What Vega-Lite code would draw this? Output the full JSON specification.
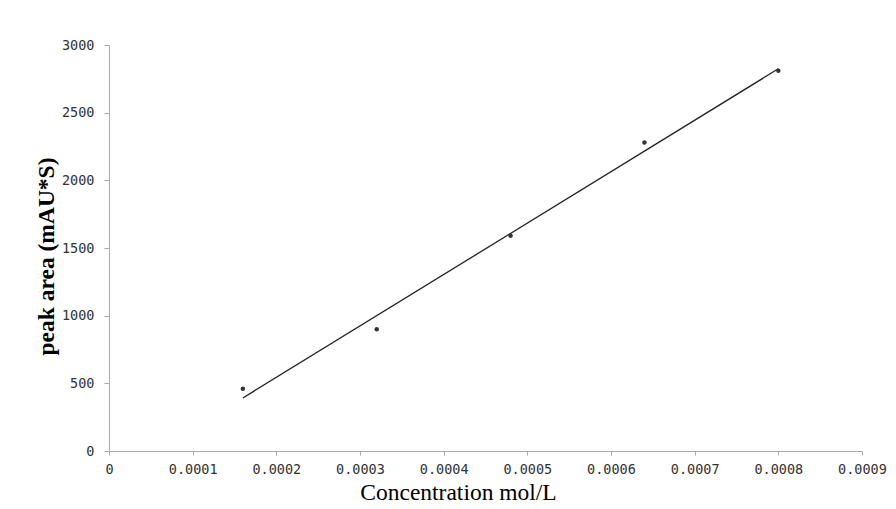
{
  "$schema": "https://vega.github.io/schema/vega-lite/v6.json",
  "width": 753,
  "height": 406,
  "autosize": {"type": "none"},
  "padding": {"left": 109, "top": 45, "right": 34, "bottom": 58},
  "background": "white",
  "config": {"view": {"stroke": null}},
  "datasets": {
    "pts": [
      {"conc": 0.00016, "area": 460},
      {"conc": 0.00032, "area": 900},
      {"conc": 0.00048, "area": 1590},
      {"conc": 0.00064, "area": 2280},
      {"conc": 0.0008, "area": 2810}
    ],
    "fit": [
      {"conc": 0.00016, "area": 392},
      {"conc": 0.0008, "area": 2824}
    ]
  },
  "layer": [
    {
      "data": {"name": "fit"},
      "mark": {"type": "line", "color": "#222222", "strokeWidth": 1.3},
      "encoding": {
        "x": {"field": "conc", "type": "quantitative"},
        "y": {"field": "area", "type": "quantitative"}
      }
    },
    {
      "data": {"name": "pts"},
      "mark": {"type": "point", "filled": true, "color": "#333333", "size": 20, "opacity": 1},
      "encoding": {
        "x": {
          "field": "conc", "type": "quantitative",
          "scale": {"domain": [0, 0.0009], "nice": false},
          "axis": {
            "values": [0, 0.0001, 0.0002, 0.0003, 0.0004, 0.0005, 0.0006, 0.0007, 0.0008, 0.0009],
            "labelExpr": "datum.value == 0 ? '0' : format(datum.value, '.4f')",
            "title": "Concentration mol/L",
            "titleFont": "Liberation Serif",
            "titleFontSize": 23.5,
            "titleFontWeight": "normal",
            "titleColor": "#000000",
            "titlePadding": 5,
            "titleX": 349,
            "labelFont": "DejaVu Sans Mono",
            "labelFontSize": 13.5,
            "labelColor": "#333333",
            "labelPadding": 7,
            "domainColor": "#aaaaaa",
            "tickColor": "#aaaaaa",
            "tickSize": 4,
            "grid": false,
            "labelFlush": false
          }
        },
        "y": {
          "field": "area", "type": "quantitative",
          "scale": {"domain": [0, 3000], "nice": false},
          "axis": {
            "values": [0, 500, 1000, 1500, 2000, 2500, 3000],
            "format": "d",
            "title": "peak area (mAU*S)",
            "titleFont": "Liberation Serif",
            "titleFontSize": 23.5,
            "titleFontWeight": "bold",
            "titleColor": "#000000",
            "titlePadding": 3,
            "titleY": 211,
            "labelFont": "DejaVu Sans Mono",
            "labelFontSize": 13.5,
            "labelColor": "#333333",
            "labelPadding": 10,
            "domainColor": "#aaaaaa",
            "tickColor": "#aaaaaa",
            "tickSize": 5,
            "grid": false
          }
        }
      }
    }
  ]
}
